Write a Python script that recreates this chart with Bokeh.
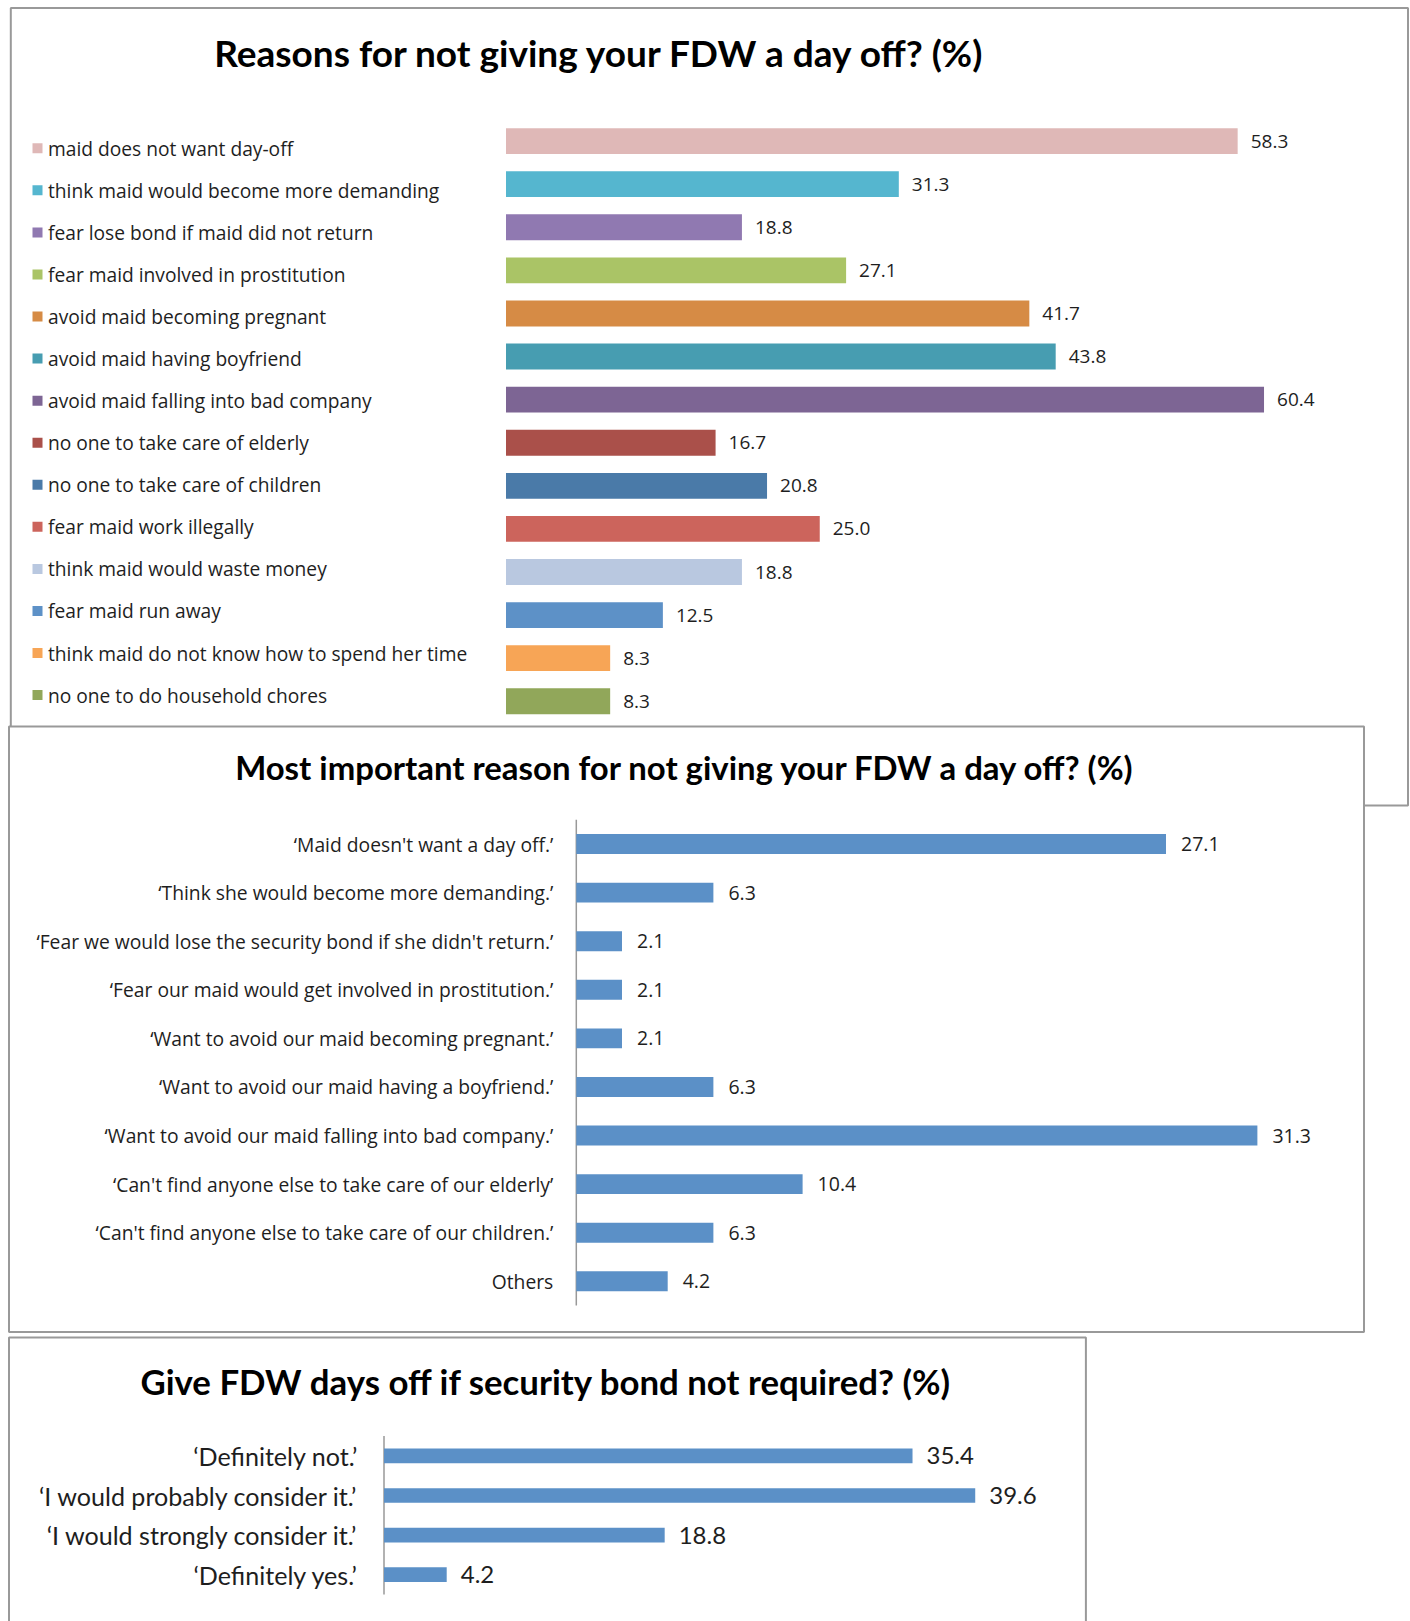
from bokeh.plotting import figure
from bokeh.models import Range1d, ColumnDataSource
from bokeh.core.properties import value
from bokeh.embed import file_html
from bokeh.resources import INLINE

# ---------------- data ----------------
title1 = "Reasons for not giving your FDW a day off? (%)"
reasons = [
    "maid does not want day-off",
    "think maid would become more demanding",
    "fear lose bond if maid did not return",
    "fear maid involved in prostitution",
    "avoid maid becoming pregnant",
    "avoid maid having boyfriend",
    "avoid maid falling into bad company",
    "no one to take care of elderly",
    "no one to take care of children",
    "fear maid work illegally",
    "think maid would waste money",
    "fear maid run away",
    "think maid do not know how to spend her time",
    "no one to do household chores",
]
reason_pct = [58.3, 31.3, 18.8, 27.1, 41.7, 43.8, 60.4, 16.7, 20.8, 25.0, 18.8, 12.5, 8.3, 8.3]
reason_colors = ["#DFB8B7", "#55B6CF", "#9079B1", "#AAC466", "#D68B45", "#479DB1", "#7D6594",
                 "#AA504A", "#4A7AA8", "#CC645C", "#B9C8E0", "#5D91C7", "#F7A556", "#91A75A"]

title2 = "Most important reason for not giving your FDW a day off? (%)"
top_reasons = [
    "\u2018Maid doesn't want a day off.\u2019",
    "\u2018Think she would become more demanding.\u2019",
    "\u2018Fear we would lose the security bond if she didn't return.\u2019",
    "\u2018Fear our maid would get involved in prostitution.\u2019",
    "\u2018Want to avoid our maid becoming pregnant.\u2019",
    "\u2018Want to avoid our maid having a boyfriend.\u2019",
    "\u2018Want to avoid our maid falling into bad company.\u2019",
    "\u2018Can't find anyone else to take care of our elderly\u2019",
    "\u2018Can't find anyone else to take care of our children.\u2019",
    "Others",
]
top_pct = [27.1, 6.3, 2.1, 2.1, 2.1, 6.3, 31.3, 10.4, 6.3, 4.2]

title3 = "Give FDW days off if security bond not required? (%)"
bond_answers = [
    "\u2018Definitely not.\u2019",
    "\u2018I would probably consider it.\u2019",
    "\u2018I would strongly consider it.\u2019",
    "\u2018Definitely yes.\u2019",
]
bond_pct = [35.4, 39.6, 18.8, 4.2]

BAR_BLUE = "#5B90C7"
TXT = "#1e1e1e"
FRAME = "#999999"
HEAD = "Lato"
SANS = "Open Sans"

# ---------------- canvas (page pixel space) ----------------
W, H = 1410, 1621
p = figure(width=W, height=H, x_range=Range1d(0, W), y_range=Range1d(H, 0),
           output_backend="svg", toolbar_location=None, min_border=0,
           x_axis_type=None, y_axis_type=None, outline_line_color=None)
p.background_fill_color = "white"
p.border_fill_color = "white"


def add_ranges(name, x0, s, y0, dy):
    p.extra_x_ranges[name + "x"] = Range1d((0 - x0) / s, (W - x0) / s)
    p.extra_y_ranges[name + "y"] = Range1d((H - y0) / dy, (0 - y0) / dy)


# panel frames
p.quad(left=[10.3], right=[1407.5], top=[7.5], bottom=[805], fill_color="white",
       line_color=FRAME, line_width=2)
p.quad(left=[8.5], right=[1363.5], top=[726], bottom=[1331.5], fill_color="white",
       line_color=FRAME, line_width=2)
p.quad(left=[8.5], right=[1085.4], top=[1337], bottom=[1650], fill_color="white",
       line_color=FRAME, line_width=2)

# titles
p.text(x=[599.6], y=[51.7], text=[title1], text_align="center", text_baseline="middle",
       text_font=value(HEAD), text_font_style="bold", text_font_size="37px", text_color="black")
p.text(x=[685], y=[767], text=[title2], text_align="center", text_baseline="middle",
       text_font=value(HEAD), text_font_style="bold", text_font_size="32.9px", text_color="black")
p.text(x=[546], y=[1381], text=[title3], text_align="center", text_baseline="middle",
       text_font=value(HEAD), text_font_style="bold", text_font_size="34.8px", text_color="black")

# ---------------- panel 1 ----------------
add_ranges("p1", 505.5, 12.55, 140.6, 43.09)
p.extra_y_ranges["legy"] = Range1d((H - 147.8) / 42.06, (0 - 147.8) / 42.06)
src1 = ColumnDataSource(dict(idx=list(range(len(reasons))), pct=reason_pct, color=reason_colors,
                             label=reasons, txt=["%.1f" % v for v in reason_pct],
                             legx=[37] * len(reasons), labx=[47.5] * len(reasons)))
p.hbar(y="idx", left=0, right="pct", height=0.6, fill_color="color", line_color=None,
       source=src1, x_range_name="p1x", y_range_name="p1y")
p.text(x="pct", y="idx", text="txt", x_offset=13, text_baseline="middle", text_font=value(SANS),
       text_font_size="19px", text_color=TXT, source=src1, x_range_name="p1x", y_range_name="p1y")
p.rect(x="legx", y="idx", width=10, height=10, width_units="screen", height_units="screen",
       fill_color="color", line_color=None, source=src1, y_range_name="legy")
p.text(x="labx", y="idx", text="label", text_baseline="middle", text_font=value(SANS),
       text_font_size="19.2px", text_color=TXT, source=src1, y_range_name="legy")

# ---------------- panel 2 ----------------
add_ranges("p2", 575.8, 21.76, 843.5, 48.59)
n2 = len(top_reasons)
src2 = ColumnDataSource(dict(idx=list(range(n2)), pct=top_pct, label=top_reasons,
                             txt=["%.1f" % v for v in top_pct], zero=[0] * n2))
p.segment(x0=[0], y0=[-0.5], x1=[0], y1=[n2 - 0.5], line_color=FRAME, line_width=1.5,
          x_range_name="p2x", y_range_name="p2y")
p.hbar(y="idx", left=0, right="pct", height=0.41, fill_color=BAR_BLUE, line_color=None,
       source=src2, x_range_name="p2x", y_range_name="p2y")
p.text(x="pct", y="idx", text="txt", x_offset=15, text_baseline="middle", text_font=value(SANS),
       text_font_size="19.5px", text_color=TXT, source=src2, x_range_name="p2x", y_range_name="p2y")
p.text(x="zero", y="idx", text="label", x_offset=-23, text_align="right", text_baseline="middle",
       text_font=value(SANS), text_font_size="19.3px", text_color=TXT, source=src2,
       x_range_name="p2x", y_range_name="p2y")

# ---------------- panel 3 ----------------
add_ranges("p3", 383.5, 14.93, 1455.4, 39.6)
n3 = len(bond_answers)
src3 = ColumnDataSource(dict(idx=list(range(n3)), pct=bond_pct, label=bond_answers,
                             txt=["%.1f" % v for v in bond_pct], zero=[0] * n3))
p.segment(x0=[0], y0=[-0.5], x1=[0], y1=[n3 - 0.5], line_color=FRAME, line_width=1.5,
          x_range_name="p3x", y_range_name="p3y")
p.hbar(y="idx", left=0, right="pct", height=0.37, fill_color=BAR_BLUE, line_color=None,
       source=src3, x_range_name="p3x", y_range_name="p3y")
p.text(x="pct", y="idx", text="txt", x_offset=14, text_baseline="middle", text_font=value(HEAD),
       text_font_size="24px", text_color=TXT, source=src3, x_range_name="p3x", y_range_name="p3y")
p.text(x="zero", y="idx", text="label", x_offset=-26, text_align="right", text_baseline="middle",
       text_font=value(HEAD), text_font_size="25.1px", text_color=TXT, source=src3,
       x_range_name="p3x", y_range_name="p3y")

open("out.html", "w").write(file_html(p, INLINE))
